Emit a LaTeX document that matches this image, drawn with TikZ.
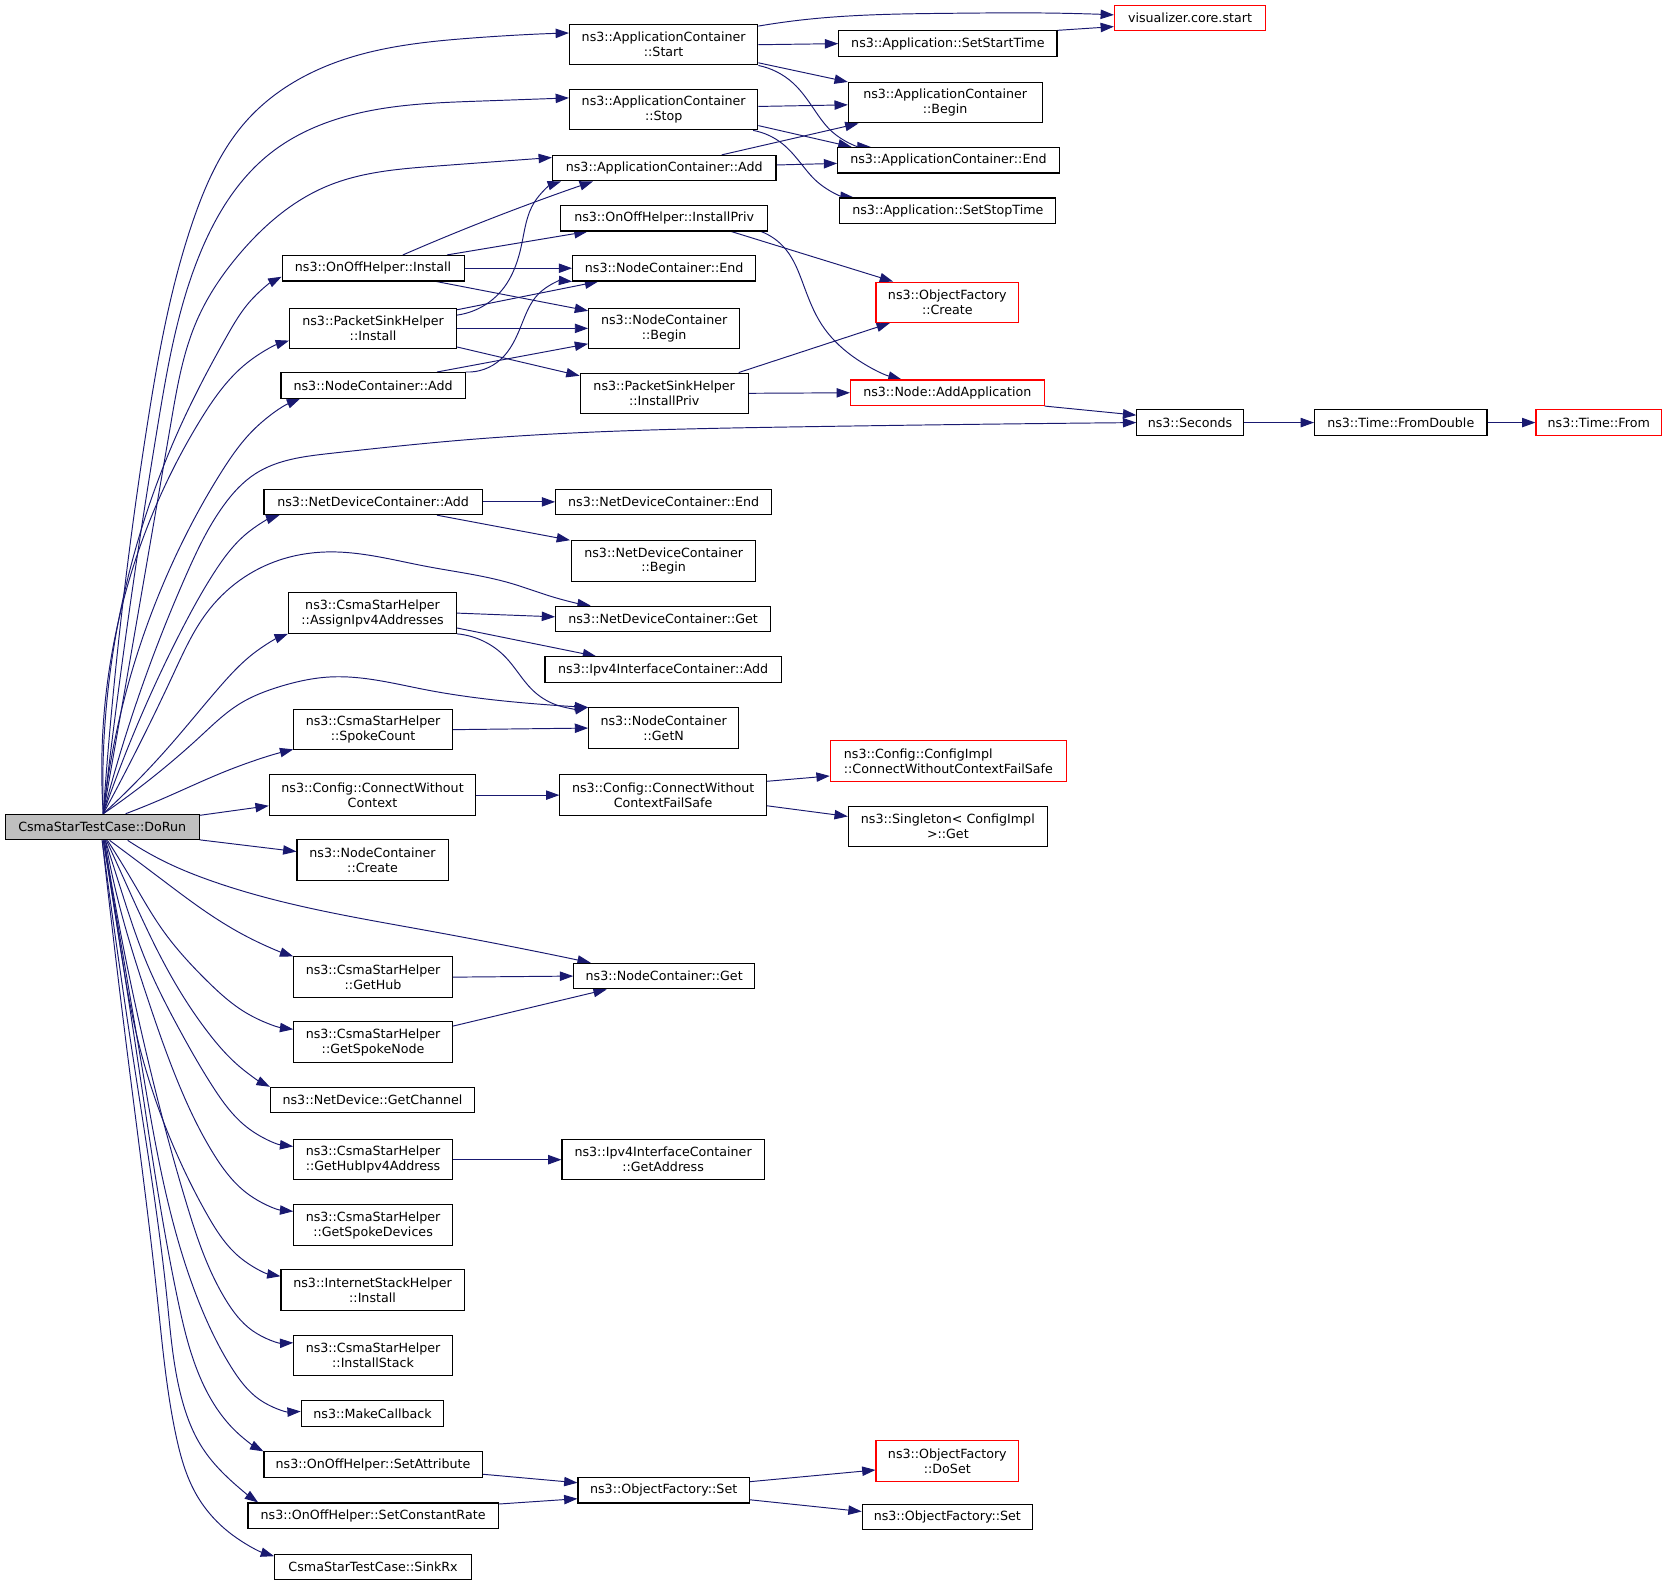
\documentclass[tikz,border=0pt]{standalone}
\usepackage{fontspec}
\setmainfont{DejaVu Sans}
\usetikzlibrary{arrows.meta,hobby}
\definecolor{edgec}{HTML}{191970}
\definecolor{grayfill}{HTML}{BFBFBF}
\pgfdeclarelayer{bg}
\pgfsetlayers{bg,main}
\tikzset{
  box/.style={draw=black, line width=1pt, fill=white, minimum height=24pt, inner sep=0pt,
    font=\fontsize{11.9}{14}\selectfont, align=center},
  tall/.style={minimum height=38pt},
  redbox/.style={draw=red},
  e/.style={draw=edgec, line width=0.9pt, -{Triangle[length=12.5pt,width=8.8pt]}},
  hc/.style={e, use Hobby shortcut},
}
\begin{document}
\begin{tikzpicture}[x=1pt,y=-1pt]
\useasboundingbox (0,0) rectangle (1568,1489);
% nodes
\node[box, fill=grayfill, minimum width=182pt] (dorun) at (96,777) {CsmaStarTestCase::DoRun};
\node[box, tall, minimum width=177pt] (acstart) at (623.5,42) {ns3::ApplicationContainer\\::Start};
\node[box, tall, minimum width=177pt] (acstop) at (623.5,103) {ns3::ApplicationContainer\\::Stop};
\node[box, minimum width=210pt] (acadd) at (624,158) {ns3::ApplicationContainer::Add};
\node[box, minimum width=171pt] (oninstall) at (350.5,252) {ns3::OnOffHelper::Install};
\node[box, tall, minimum width=157pt] (psinstall) at (350.5,308.5) {ns3::PacketSinkHelper\\::Install};
\node[box, minimum width=173pt] (ncadd) at (350.5,362) {ns3::NodeContainer::Add};
\node[box, minimum width=194pt] (oninstpriv) at (624,205) {ns3::OnOffHelper::InstallPriv};
\node[box, minimum width=172pt] (ncend) at (624,252) {ns3::NodeContainer::End};
\node[box, tall, minimum width=142pt] (ncbegin) at (624,308.5) {ns3::NodeContainer\\::Begin};
\node[box, tall, minimum width=158pt] (psinstpriv) at (624,369.5) {ns3::PacketSinkHelper\\::InstallPriv};
\node[box, redbox, minimum width=142pt] (viz) at (1118,17) {visualizer.core.start};
\node[box, minimum width=205pt] (setstart) at (890.5,41) {ns3::Application::SetStartTime};
\node[box, tall, minimum width=182pt] (acbegin) at (888,96.5) {ns3::ApplicationContainer\\::Begin};
\node[box, minimum width=208pt] (acend) at (891,150.5) {ns3::ApplicationContainer::End};
\node[box, minimum width=203pt] (setstop) at (890.5,198) {ns3::Application::SetStopTime};
\node[box, tall, redbox, minimum width=134pt] (ofcreate) at (890,284) {ns3::ObjectFactory\\::Create};
\node[box, redbox, minimum width=182pt] (addapp) at (890,369) {ns3::Node::AddApplication};
\node[box, minimum width=100pt] (seconds) at (1118,397) {ns3::Seconds};
\node[box, minimum width=162pt] (fromdouble) at (1316,397) {ns3::Time::FromDouble};
\node[box, redbox, minimum width=118pt] (timefrom) at (1502,397) {ns3::Time::From};
\node[box, minimum width=205pt] (ndcadd) at (350.5,471.5) {ns3::NetDeviceContainer::Add};
\node[box, minimum width=203pt] (ndcend) at (623.5,471.5) {ns3::NetDeviceContainer::End};
\node[box, tall, minimum width=173pt] (ndcbegin) at (623.5,527) {ns3::NetDeviceContainer\\::Begin};
\node[box, tall, minimum width=158pt] (assign) at (350,576) {ns3::CsmaStarHelper\\::AssignIpv4Addresses};
\node[box, minimum width=202pt] (ndcget) at (623,581.5) {ns3::NetDeviceContainer::Get};
\node[box, minimum width=222pt] (ipv4add) at (623,629) {ns3::Ipv4InterfaceContainer::Add};
\node[box, tall, minimum width=141pt] (getn) at (623.5,684) {ns3::NodeContainer\\::GetN};
\node[box, tall, minimum width=149pt] (spokecount) at (350.5,685.5) {ns3::CsmaStarHelper\\::SpokeCount};
\node[box, tall, minimum width=194pt] (connwo) at (350,747) {ns3::Config::ConnectWithout\\Context};
\node[box, tall, minimum width=194pt] (connfs) at (623,747) {ns3::Config::ConnectWithout\\ContextFailSafe};
\node[box, tall, redbox, minimum width=222pt, align=left] (configimpl) at (891,715) {ns3::Config::ConfigImpl\\::ConnectWithoutContextFailSafe};
\node[box, tall, minimum width=187pt] (singleton) at (890.5,776.5) {ns3::Singleton< ConfigImpl\\ >::Get};
\node[box, tall, minimum width=142pt] (nccreate) at (350,808) {ns3::NodeContainer\\::Create};
\node[box, tall, minimum width=149pt] (gethub) at (350.5,918) {ns3::CsmaStarHelper\\::GetHub};
\node[box, minimum width=170pt] (ncget) at (624,917) {ns3::NodeContainer::Get};
\node[box, tall, minimum width=149pt] (getspokenode) at (350.5,979) {ns3::CsmaStarHelper\\::GetSpokeNode};
\node[box, minimum width=192pt] (getchannel) at (350,1033.5) {ns3::NetDevice::GetChannel};
\node[box, tall, minimum width=149pt] (gethubipv4) at (350.5,1089.5) {ns3::CsmaStarHelper\\::GetHubIpv4Address};
\node[box, tall, minimum width=190pt] (getaddress) at (623,1089.5) {ns3::Ipv4InterfaceContainer\\::GetAddress};
\node[box, tall, minimum width=149pt] (getspokedev) at (350.5,1151) {ns3::CsmaStarHelper\\::GetSpokeDevices};
\node[box, tall, minimum width=172pt] (ishinstall) at (350,1212) {ns3::InternetStackHelper\\::Install};
\node[box, tall, minimum width=149pt] (installstack) at (350.5,1273.5) {ns3::CsmaStarHelper\\::InstallStack};
\node[box, minimum width=134pt] (makecb) at (350,1328) {ns3::MakeCallback};
\node[box, minimum width=205pt] (setattr) at (350.5,1376) {ns3::OnOffHelper::SetAttribute};
\node[box, minimum width=235pt] (setconst) at (350.5,1424) {ns3::OnOffHelper::SetConstantRate};
\node[box, minimum width=185pt] (sinkrx) at (350.5,1472) {CsmaStarTestCase::SinkRx};
\node[box, minimum width=161pt] (ofset) at (623.5,1400) {ns3::ObjectFactory::Set};
\node[box, tall, redbox, minimum width=134pt] (dosets) at (890,1372.5) {ns3::ObjectFactory\\::DoSet};
\node[box, minimum width=160pt] (ofset2) at (890,1425) {ns3::ObjectFactory::Set};

\begin{pgfonlayer}{bg}
\fill[white] (0,0) rectangle (1568,1489);
% DoRun upward curves
\draw[hc] ([xshift=1pt]dorun.north) .. (139,395) .. (181.5,207) .. (232,113) .. (313,59.5) .. (440,36) .. ([yshift=11pt]acstart.west);
\draw[hc] ([xshift=1pt]dorun.north) .. (149,395) .. (188,238) .. (254,144) .. (330,108) .. (450,95) .. ([yshift=11pt]acstop.west);
\draw[hc] ([xshift=1pt]dorun.north) .. (161,395) .. (185,301) .. (225.5,238) .. (307,175) .. (410,156) .. ([yshift=10pt]acadd.west);
\draw[hc] ([xshift=1pt]dorun.north) .. (172,395) .. (213,316) .. (235,283) .. ([yshift=-8pt]oninstall.west);
\draw[hc] ([xshift=1pt]dorun.north) .. (188,395) .. (232,341) .. ([yshift=-11.5pt]psinstall.west);
\draw[hc] ([xshift=1pt]dorun.north) .. (169,514) .. (207,445) .. (238,404) .. ([xshift=-68.5pt]ncadd.south);
\draw[hc] ([xshift=1pt]dorun.north) .. (175,540) .. (210,475) .. (240,445) .. (310,426) .. (440,413) .. (750,401) .. (seconds.west);
\draw[hc] ([xshift=1pt]dorun.north) .. (169,595) .. (200.5,539) .. (232,501) .. ([xshift=-88pt]ndcadd.south);
\draw[hc] ([xshift=1pt]dorun.north) .. (163,633) .. (194,576) .. (225.5,545) .. (263,526) .. (310,518.5) .. (400,532) .. (480,548) .. (520,561) .. ([xshift=-68pt]ndcget.north);
\draw[hc] ([xshift=1pt]dorun.north) .. (160,700) .. (206.7,645) .. (238,614) .. (assign.south west);
\draw[hc] ([xshift=1pt]dorun.north) .. (188,692) .. (225.5,661) .. (263,645) .. (310,636) .. (400,648) .. (500,661) .. (getn.north west);
\draw[hc] ([xshift=22pt]dorun.north) .. (150,751.6) .. (216,723) .. ([yshift=1pt]spokecount.south west);
\draw[e] ([yshift=11pt]dorun.east) -- ([yshift=-10pt]connwo.west);
\draw[e] ([yshift=-12pt]dorun.east) -- ([yshift=8pt]nccreate.west);
% DoRun downward curves
\draw[hc] ([xshift=24pt]dorun.south) .. (160,812) .. (197,827) .. (238,840) .. (400,874) .. ([xshift=-69pt]ncget.north);
\draw[hc] ([xshift=7pt]dorun.south) .. (153,827) .. (200,861) .. (238,883) .. (gethub.north west);
\draw[hc] ([xshift=5pt]dorun.south) .. (124,827) .. (153,874) .. (194,921) .. (232,952) .. ([yshift=12pt]getspokenode.west);
\draw[hc] ([xshift=4pt]dorun.south) .. (117,827) .. (163,921) .. (194,968) .. (225,1002) .. (getchannel.north west);
\draw[hc] ([xshift=3pt]dorun.south) .. (115,840) .. (138,905) .. (169,968) .. (200,1021) .. (232,1059) .. ([yshift=12.5pt]gethubipv4.west);
\draw[hc] ([xshift=3pt]dorun.south) .. (112,850) .. (138,936) .. (169,1021) .. (200,1083) .. (232,1121) .. ([yshift=13pt]getspokedev.west);
\draw[hc] ([xshift=2pt]dorun.south) .. (110,870) .. (131,983) .. (163,1077) .. (194,1140) .. (225,1181) .. ([yshift=13pt]ishinstall.west);
\draw[hc] ([xshift=2pt]dorun.south) .. (140,1000) .. (175,1130) .. (212,1221) .. (237,1250) .. ([yshift=12pt]installstack.west);
\draw[hc] ([xshift=1pt]dorun.south) .. (133,1000) .. (186,1221) .. (217,1284) .. (244,1315) .. ([yshift=2pt]makecb.west);
\draw[hc] ([xshift=1pt]dorun.south) .. (130,1000) .. (167,1221) .. (184,1284) .. (224,1347) .. (setattr.north west);
\draw[hc] (dorun.south) .. (126,1000) .. (157,1221) .. (171,1315) .. (190,1360) .. (217,1391) .. ([xshift=10pt]setconst.north west);
\draw[hc] (dorun.south) .. (121,1000) .. (148,1221) .. (165,1347) .. (185,1405) .. (217,1441) .. ([yshift=10pt]sinkrx.west);
% other curves
\draw[hc] ([yshift=-2pt]acstart.north east) .. (760,18) .. (892,12.5) .. (1000,12.5) .. ([yshift=3pt]viz.west);
\draw[hc] (acstart.south east) .. (745,78) .. (765,103) .. (782,124) .. ([xshift=-73pt]acend.north);
\draw[hc] ([xshift=-5pt]acstop.south east) .. (735,135) .. (752,153) .. (768,171) .. ([xshift=-88.5pt]setstop.north);
\draw[hc] ([xshift=91pt]oninstpriv.south) .. (738,234) .. (755,268) .. (772,305) .. (800,334) .. ([xshift=-43pt]addapp.north);
\draw[hc] ([yshift=12.5pt]psinstall.east) .. (472,272) .. (490,230) .. (502,190) .. ([xshift=-97pt]acadd.south);
\draw[hc] (ncadd.north east) .. (470,338) .. (490,305) .. (506,276) .. (ncend.south west);
\draw[hc] ([xshift=28pt]oninstall.north) .. (470,202) .. ([xshift=-67pt]acadd.south);
\draw[hc] (assign.south east) .. (474.6,617) .. (500,648) .. (522,662) .. (getn.north west);
% straight edges
\draw[e] (acstart.east) -- (setstart.west);
\draw[e] ([yshift=-17pt]acstart.east) -- (acbegin.north west);
\draw[e] (setstart.north east) -- ([yshift=-8pt]viz.west);
\draw[e] ([yshift=3pt]acstop.east) -- ([yshift=-2pt]acbegin.west);
\draw[e] ([yshift=-15pt]acstop.east) -- ([xshift=-91pt]acend.north);
\draw[e] ([xshift=54pt]acadd.north) -- ([xshift=10pt]acbegin.south west);
\draw[e] ([yshift=3pt]acadd.east) -- ([yshift=-3pt]acend.west);
\draw[e] ([xshift=69.5pt]oninstall.north) -- ([xshift=-72pt]oninstpriv.south);
\draw[e] (oninstall.east) -- (ncend.west);
\draw[e] ([xshift=59.5pt]oninstall.south) -- ([yshift=-3pt]ncbegin.north west);
\draw[e] ([yshift=-2pt]psinstall.north east) -- ([xshift=-62pt]ncend.south);
\draw[e] (psinstall.east) -- (ncbegin.west);
\draw[e] ([yshift=-17.5pt]psinstall.east) -- ([yshift=16.5pt]psinstpriv.west);
\draw[e] ([xshift=60pt]ncadd.north) -- ([yshift=-14.5pt]ncbegin.west);
\draw[e] ([xshift=63pt]oninstpriv.south) -- ([xshift=-51pt]ofcreate.north);
\draw[e] ([xshift=70pt]psinstpriv.north) -- ([xshift=-54pt]ofcreate.south);
\draw[e] (psinstpriv.east) -- (addapp.west);
\draw[e] (addapp.south east) -- ([yshift=7pt]seconds.west);
\draw[e] (seconds.east) -- (fromdouble.west);
\draw[e] (fromdouble.east) -- (timefrom.west);
\draw[e] (ndcadd.east) -- (ndcend.west);
\draw[e] ([xshift=60pt]ndcadd.south) -- ([xshift=-88pt]ndcbegin.north);
\draw[e] (assign.east) -- ([yshift=2pt]ndcget.west);
\draw[e] ([yshift=-14pt]assign.east) -- ([xshift=-63pt]ipv4add.north);
\draw[e] (spokecount.east) -- (getn.west);
\draw[e] (connwo.east) -- (connfs.west);
\draw[e] ([yshift=13pt]connfs.east) -- ([yshift=-14pt]configimpl.west);
\draw[e] ([yshift=-10pt]connfs.east) -- ([yshift=9.5pt]singleton.west);
\draw[e] (gethub.east) -- (ncget.west);
\draw[e] ([yshift=15pt]getspokenode.east) -- ([xshift=-54pt]ncget.south);
\draw[e] (gethubipv4.east) -- (getaddress.west);
\draw[e] ([yshift=-9pt]setattr.east) -- ([yshift=7pt]ofset.west);
\draw[e] ([yshift=11pt]setconst.east) -- ([yshift=-8pt]ofset.west);
\draw[e] ([yshift=8pt]ofset.east) -- ([yshift=-8.5pt]dosets.west);
\draw[e] ([yshift=-9pt]ofset.east) -- ([yshift=5pt]ofset2.west);
\end{pgfonlayer}
\end{tikzpicture}
\end{document}
